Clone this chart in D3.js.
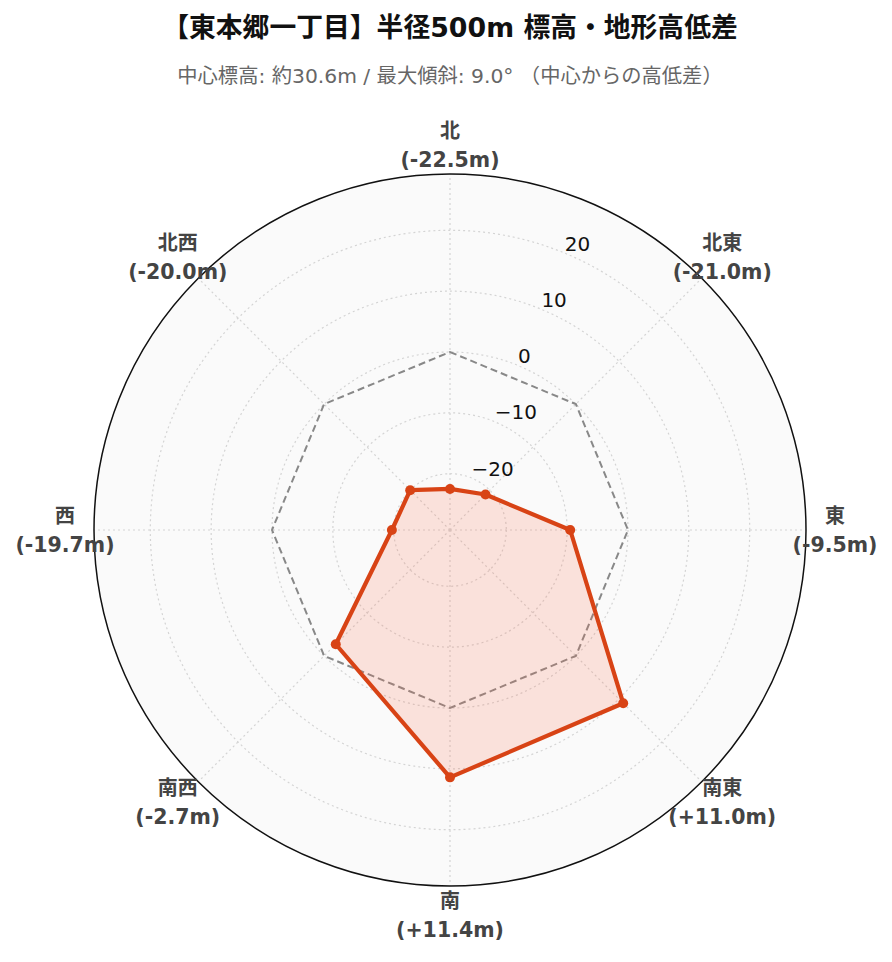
<!DOCTYPE html>
<html><head><meta charset="utf-8">
<script src="https://cdn.jsdelivr.net/npm/d3@7"></script>
<style>
html,body{margin:0;padding:0;background:#fff;}
svg{display:block;}
</style></head>
<body>
<script>
const directions = ["北","北東","東","南東","南","南西","西","北西"];
const elevationDiff = [-22.5, -21.0, -9.5, 11.0, 11.4, -2.7, -19.7, -20.0];
const referenceLevel = [0, 0, 0, 0, 0, 0, 0, 0];
const radialTicks = [-20, -10, 0, 10, 20];
const radialDomain = [-29.25, 29.25];
const titleText = "【東本郷一丁目】半径500m 標高・地形高低差";
const subtitleText = "中心標高: 約30.6m / 最大傾斜: 9.0° （中心からの高低差）";

const W = 892, H = 962, cx = 450, cy = 530, R = 356;
const latin = "'DejaVu Sans','Noto Sans CJK JP',sans-serif";

const svg = d3.select("body").append("svg").attr("width", W).attr("height", H);

svg.append("text").attr("x", 450).attr("y", 27).attr("text-anchor","middle")
  .attr("dominant-baseline","central").style("font-family", latin)
  .style("font-weight","bold").style("font-size","26.8px").style("fill","#111").text(titleText);
svg.append("text").attr("x", 450).attr("y", 76).attr("text-anchor","middle")
  .attr("dominant-baseline","central").style("font-family", latin)
  .style("font-size","20.3px").style("fill","#666").text(subtitleText);

const r = d3.scaleLinear().domain(radialDomain).range([0, R]);
const ang = d3.scalePoint().domain(directions).range([0, 2*Math.PI*(directions.length-1)/directions.length]);

const g = svg.append("g").attr("transform", `translate(${cx},${cy})`);

g.append("circle").attr("r", R).attr("fill", "#fafafa");

g.selectAll(".grid").data(radialTicks).join("circle")
  .attr("r", d => r(d)).attr("fill","none").attr("stroke","#d4d4d4")
  .attr("stroke-width",1.2).attr("stroke-dasharray","2,3");
g.selectAll(".spoke").data(directions).join("line")
  .attr("x1",0).attr("y1",0)
  .attr("x2", d => R*Math.sin(ang(d))).attr("y2", d => -R*Math.cos(ang(d)))
  .attr("stroke","#d4d4d4").attr("stroke-width",1.2).attr("stroke-dasharray","2,3");

g.append("circle").attr("r", R).attr("fill", "none").attr("stroke","#111").attr("stroke-width",1.5);

const radial = d3.lineRadial().angle((d,i) => ang(directions[i])).radius(d => r(d)).curve(d3.curveLinearClosed);

g.append("path").datum(referenceLevel).attr("d", radial)
  .attr("fill","none").attr("stroke","#888").attr("stroke-width",2).attr("stroke-dasharray","7,4");

g.append("path").datum(elevationDiff).attr("d", radial)
  .attr("fill","rgba(250,110,80,0.18)").attr("stroke","#d84315").attr("stroke-width",4.2)
  .attr("stroke-linejoin","round");
g.selectAll(".pt").data(elevationDiff).join("circle")
  .attr("cx",(d,i) => r(d)*Math.sin(ang(directions[i])))
  .attr("cy",(d,i) => -r(d)*Math.cos(ang(directions[i])))
  .attr("r",5).attr("fill","#d84315");

const ta = Math.PI/8;
g.selectAll(".tick").data(radialTicks).join("text")
  .attr("x", d => r(d)*Math.sin(ta)).attr("y", d => -r(d)*Math.cos(ta) - 9.5)
  .attr("dominant-baseline","central").style("font-family", latin)
  .style("font-size","20px").style("fill","#111")
  .text(d => d < 0 ? "\u2212" + Math.abs(d) : d);

const fmt = v => "(" + (v > 0 ? "+" : "") + v.toFixed(1) + "m)";
const LR = 385;
const lab = g.selectAll(".lab").data(directions).join("g")
  .attr("transform", d => `translate(${LR*Math.sin(ang(d))},${-LR*Math.cos(ang(d))})`);
lab.append("text").attr("y",-14.5).attr("text-anchor","middle").attr("dominant-baseline","central")
  .style("font-family", latin).style("font-weight","bold").style("font-size","20px").style("fill","#444")
  .text(d => d);
lab.append("text").attr("y",14.5).attr("text-anchor","middle").attr("dominant-baseline","central")
  .style("font-family", latin).style("font-weight","bold").style("font-size","20.5px").style("fill","#444")
  .text((d,i) => fmt(elevationDiff[i]));
</script>
</body></html>
